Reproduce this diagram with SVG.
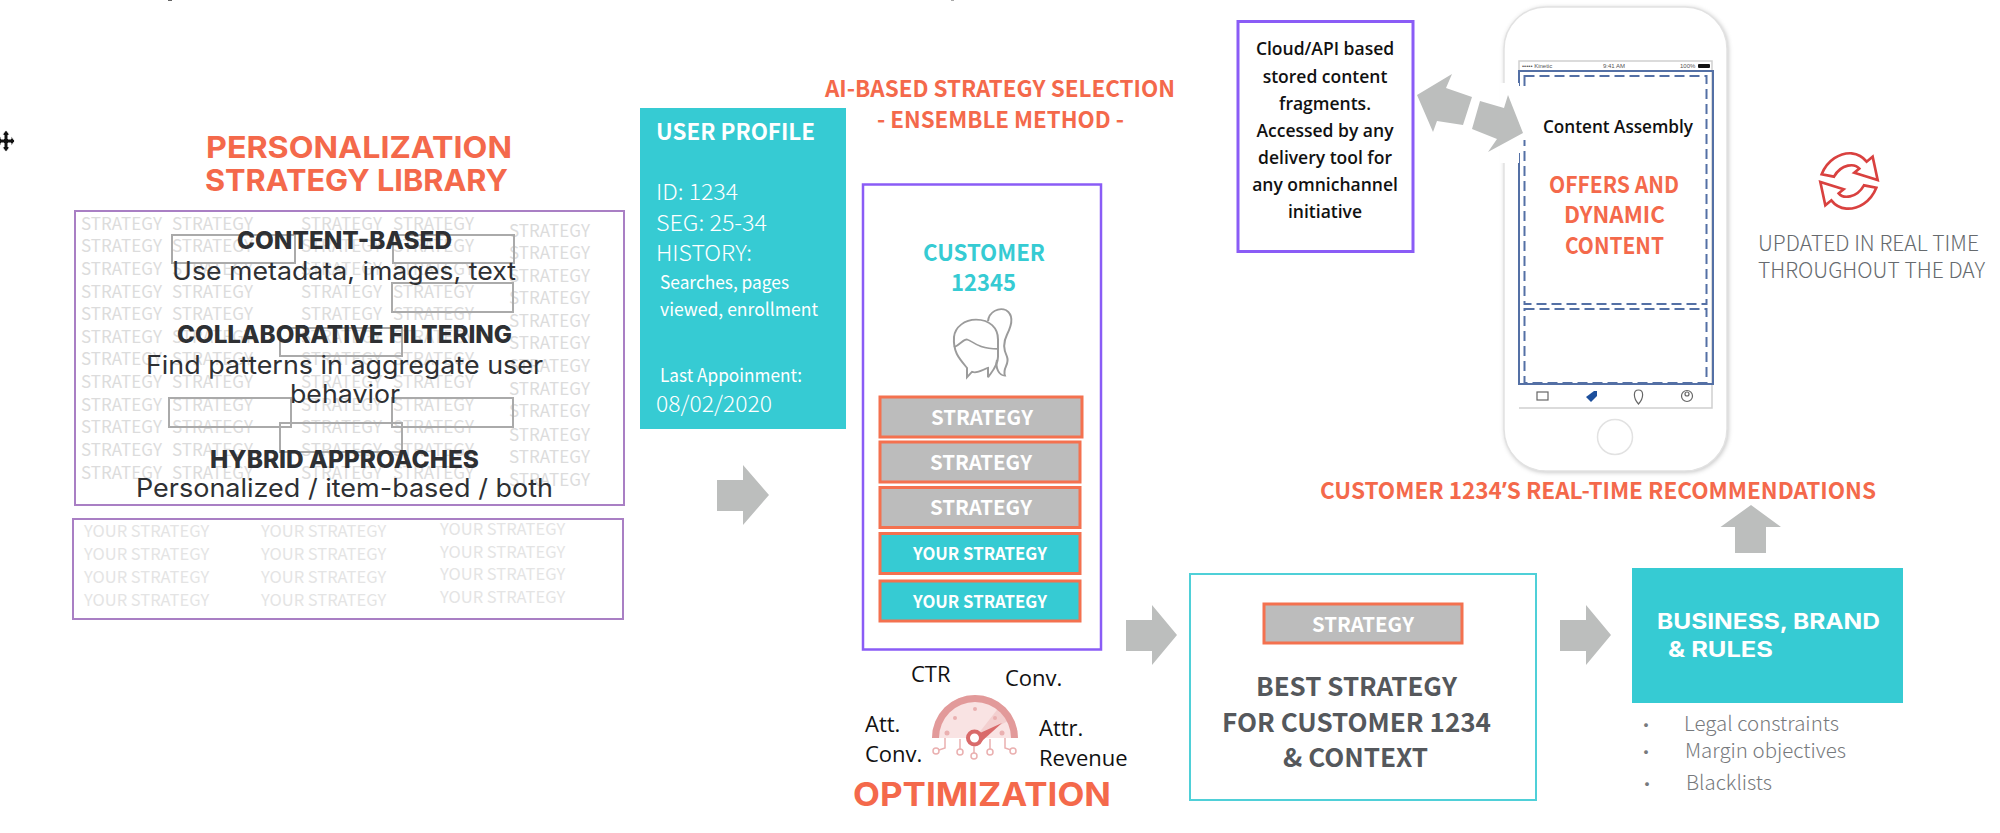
<svg xmlns="http://www.w3.org/2000/svg" width="2000" height="833" viewBox="0 0 2000 833">
<style>
text{font-family:"Noto Sans CJK SC","Noto Sans",sans-serif}
.ttl{font-weight:700;fill:#f4694b}
.mont{font-family:Inter,"Open Sans",sans-serif;font-weight:700}
.s{font-size:17px;fill:#dcdcdc}
.y{font-size:16.500px;fill:#e4e4e4}
.h{font-family:Inter,sans-serif;font-weight:800;font-size:24px;fill:#2e3033}
.d{font-family:Inter,sans-serif;font-weight:400;font-size:25px;fill:#2e3033}
.lib{fill:none;stroke:#a97fc4;stroke-width:2}
.ghost{fill:none;stroke:#aaaaaa;stroke-width:2}
.arrow{fill:#bcbebd}
.st{stroke:#f4714f;stroke-width:3}
.wl{font-weight:700;fill:#fff}
.w{fill:#fff}
.k{font-family:"Open Sans",sans-serif;fill:#111;font-size:22px}
.gr{font-size:20px;font-weight:300;fill:#777a7d}
.up{font-size:21px;font-weight:300;fill:#666a6e}
.best{font-weight:700;font-size:26px;fill:#55585c}
.cloud{font-family:"Open Sans",sans-serif;font-weight:600;font-size:17.500px;fill:#111;text-anchor:middle}
.blue{fill:none;stroke:#5470a5;stroke-width:2}
.dash{fill:none;stroke:#5470a5;stroke-width:2;stroke-dasharray:10 5}
.icon{fill:none;stroke:#9b9b9b;stroke-width:2}
.teal{fill:#36cbd3}
.stat{font-family:"Liberation Sans",sans-serif;font-size:6px;fill:#555}
</style>
<defs><filter id="shadow" x="-5%" y="-5%" width="110%" height="110%"><feDropShadow dx="1" dy="1" stdDeviation="2" flood-color="#c8c8c8"/></filter></defs>
<rect x="168" y="0" width="4" height="1" fill="#666"/><rect x="951" y="0" width="3" height="1" fill="#aaa"/>
<g id="library">
<text class="ttl mont" font-size="30" x="206" y="158" textLength="306" lengthAdjust="spacingAndGlyphs">PERSONALIZATION</text>
<text class="ttl mont" font-size="30" x="205" y="191" textLength="303" lengthAdjust="spacingAndGlyphs">STRATEGY LIBRARY</text>
<rect class="lib" x="75" y="211" width="549" height="294"/>
<g class="s">
<text x="81" y="230">STRATEGY</text><text x="172" y="230">STRATEGY</text><text x="301" y="230">STRATEGY</text><text x="393" y="230">STRATEGY</text>
<text x="81" y="252">STRATEGY</text><text x="172" y="252">STRATEGY</text><text x="301" y="252">STRATEGY</text><text x="393" y="252">STRATEGY</text>
<text x="81" y="275">STRATEGY</text><text x="172" y="275">STRATEGY</text><text x="301" y="275">STRATEGY</text><text x="393" y="275">STRATEGY</text>
<text x="81" y="298">STRATEGY</text><text x="172" y="298">STRATEGY</text><text x="301" y="298">STRATEGY</text><text x="393" y="298">STRATEGY</text>
<text x="81" y="320">STRATEGY</text><text x="172" y="320">STRATEGY</text><text x="301" y="320">STRATEGY</text><text x="393" y="320">STRATEGY</text>
<text x="81" y="343">STRATEGY</text><text x="172" y="343">STRATEGY</text><text x="301" y="343">STRATEGY</text><text x="393" y="343">STRATEGY</text>
<text x="81" y="365">STRATEGY</text><text x="172" y="365">STRATEGY</text><text x="301" y="365">STRATEGY</text><text x="393" y="365">STRATEGY</text>
<text x="81" y="388">STRATEGY</text><text x="172" y="388">STRATEGY</text><text x="301" y="388">STRATEGY</text><text x="393" y="388">STRATEGY</text>
<text x="81" y="411">STRATEGY</text><text x="172" y="411">STRATEGY</text><text x="301" y="411">STRATEGY</text><text x="393" y="411">STRATEGY</text>
<text x="81" y="433">STRATEGY</text><text x="172" y="433">STRATEGY</text><text x="301" y="433">STRATEGY</text><text x="393" y="433">STRATEGY</text>
<text x="81" y="456">STRATEGY</text><text x="172" y="456">STRATEGY</text><text x="301" y="456">STRATEGY</text><text x="393" y="456">STRATEGY</text>
<text x="81" y="479">STRATEGY</text><text x="172" y="479">STRATEGY</text><text x="301" y="479">STRATEGY</text><text x="393" y="479">STRATEGY</text>
<text x="509" y="237">STRATEGY</text><text x="509" y="259">STRATEGY</text><text x="509" y="282">STRATEGY</text><text x="509" y="304">STRATEGY</text><text x="509" y="327">STRATEGY</text><text x="509" y="349">STRATEGY</text><text x="509" y="372">STRATEGY</text><text x="509" y="395">STRATEGY</text><text x="509" y="417">STRATEGY</text><text x="509" y="441">STRATEGY</text><text x="509" y="463">STRATEGY</text><text x="509" y="486">STRATEGY</text>
</g>
<rect class="ghost" x="172" y="235" width="123" height="28"/>
<rect class="ghost" x="393" y="235" width="121" height="28"/>
<rect class="ghost" x="392" y="283" width="121" height="29"/>
<rect class="ghost" x="280" y="328" width="122" height="28"/>
<rect class="ghost" x="169" y="398" width="122" height="29"/>
<rect class="ghost" x="392" y="398" width="121" height="29"/>
<rect class="ghost" x="280" y="423" width="122" height="29"/>
<text class="h" x="237" y="249" textLength="215" lengthAdjust="spacingAndGlyphs">CONTENT-BASED</text>
<text class="d" x="172" y="280" textLength="344" lengthAdjust="spacingAndGlyphs">Use metadata, images, text</text>
<text class="h" x="177" y="343" textLength="335" lengthAdjust="spacingAndGlyphs">COLLABORATIVE FILTERING</text>
<text class="d" x="146" y="374" textLength="397" lengthAdjust="spacingAndGlyphs">Find patterns in aggregate user</text>
<text class="d" x="290" y="403" textLength="110" lengthAdjust="spacingAndGlyphs">behavior</text>
<text class="h" x="210" y="468" textLength="269" lengthAdjust="spacingAndGlyphs">HYBRID APPROACHES</text>
<text class="d" x="136" y="497" textLength="417" lengthAdjust="spacingAndGlyphs">Personalized / item-based / both</text>
</g>
<g id="your-strategies">
<rect class="lib" x="73" y="519" width="550" height="100"/>
<g class="y">
<text x="84" y="537">YOUR STRATEGY</text><text x="261" y="537">YOUR STRATEGY</text><text x="440" y="535">YOUR STRATEGY</text>
<text x="84" y="560">YOUR STRATEGY</text><text x="261" y="560">YOUR STRATEGY</text><text x="440" y="558">YOUR STRATEGY</text>
<text x="84" y="583">YOUR STRATEGY</text><text x="261" y="583">YOUR STRATEGY</text><text x="440" y="580">YOUR STRATEGY</text>
<text x="84" y="606">YOUR STRATEGY</text><text x="261" y="606">YOUR STRATEGY</text><text x="440" y="603">YOUR STRATEGY</text>
</g>
</g>
<g id="user-profile">
<rect x="640" y="108" width="206" height="321" class="teal"/>
<text class="w" font-weight="700" font-size="22" x="656" y="140" textLength="159" lengthAdjust="spacingAndGlyphs">USER PROFILE</text>
<text class="w" font-size="22" font-weight="300" x="656" y="200" textLength="82" lengthAdjust="spacingAndGlyphs">ID: 1234</text>
<text class="w" font-size="22" font-weight="300" x="656" y="231" textLength="111" lengthAdjust="spacingAndGlyphs">SEG: 25-34</text>
<text class="w" font-size="22" font-weight="300" x="656" y="261" textLength="96" lengthAdjust="spacingAndGlyphs">HISTORY:</text>
<text class="w" font-size="18" x="660" y="289" textLength="129" lengthAdjust="spacingAndGlyphs">Searches, pages</text>
<text class="w" font-size="18" x="660" y="316" textLength="158" lengthAdjust="spacingAndGlyphs">viewed, enrollment</text>
<text class="w" font-size="18" x="660" y="382" textLength="142" lengthAdjust="spacingAndGlyphs">Last Appoinment:</text>
<text class="w" font-size="22" font-weight="300" x="656" y="412" textLength="116" lengthAdjust="spacingAndGlyphs">08/02/2020</text>
</g>
<g id="ai-title">
<text class="ttl" font-size="23" x="825" y="97" textLength="350" lengthAdjust="spacingAndGlyphs">AI-BASED STRATEGY SELECTION</text>
<text class="ttl" font-size="23" x="877" y="128" textLength="247" lengthAdjust="spacingAndGlyphs">- ENSEMBLE METHOD -</text>
</g>
<g id="customer">
<rect x="863" y="184.500" width="238" height="465" fill="#fff" stroke="#8a5cf6" stroke-width="2.500"/>
<text font-weight="700" font-size="23" fill="#36cbd3" x="923" y="261" textLength="122" lengthAdjust="spacingAndGlyphs">CUSTOMER</text>
<text font-weight="700" font-size="23" fill="#36cbd3" x="951" y="291" textLength="65" lengthAdjust="spacingAndGlyphs">12345</text>
<g class="icon" transform="translate(-1,97.650) scale(1,.79)">
<path d="M968 354V342C960 330 954 322 955 303C956 290 966 281 977 281C991 281 999 292 999 306V328C999 340 992 348 989 354V342C984 344 978 350 973 347Z"/>
<path d="M955 316C962 312 964 306 968 306C974 308 978 318 999 318"/>
<path d="M989 283C990 271 1000 265 1007 269C1016 276 1012 290 1008 300C1004 310 1004 318 1008 328C1011 338 1003 342 1006 352C1000 352 996 342 998 332"/>
</g>
<g id="strategy-list">
<rect class="st" x="880" y="397" width="202" height="40" fill="#bcbcbc"/><text class="wl" font-size="20.500" x="931" y="425" textLength="102" lengthAdjust="spacingAndGlyphs">STRATEGY</text>
<rect class="st" x="880" y="442" width="200" height="40" fill="#bcbcbc"/><text class="wl" font-size="20.500" x="930" y="470" textLength="102" lengthAdjust="spacingAndGlyphs">STRATEGY</text>
<rect class="st" x="880" y="487.500" width="200" height="40" fill="#bcbcbc"/><text class="wl" font-size="20.500" x="930" y="515" textLength="102" lengthAdjust="spacingAndGlyphs">STRATEGY</text>
<rect class="st" x="880" y="533.500" width="200" height="40" fill="#36cbd3"/><text class="wl" font-size="17.500" x="913" y="560" textLength="134" lengthAdjust="spacingAndGlyphs">YOUR STRATEGY</text>
<rect class="st" x="880" y="581" width="200" height="40" fill="#36cbd3"/><text class="wl" font-size="17.500" x="913" y="608" textLength="134" lengthAdjust="spacingAndGlyphs">YOUR STRATEGY</text>
</g>
</g>
<g id="optimization">
<text class="k" x="911" y="682">CTR</text><text class="k" x="1005" y="686">Conv.</text>
<text class="k" x="865" y="732">Att.</text><text class="k" x="865" y="762">Conv.</text>
<text class="k" x="1039" y="736">Attr.</text><text class="k" x="1039" y="766">Revenue</text>
<path d="M932 738A43 43 0 0 1 1018 738Z" fill="#f9e3e3"/>
<path d="M975 738L1000 706A43 43 0 0 1 1010 720Z" fill="#f3cfcf"/>
<path d="M932 738A43 43 0 0 1 1018 738H1011A36 36 0 0 0 939 738Z" fill="#e29a9a"/>
<g fill="#eab0b0"><circle cx="975" cy="709" r="2"/><circle cx="955" cy="718" r="2"/><circle cx="995" cy="718" r="2"/><circle cx="947" cy="733" r="2.500"/><circle cx="1002" cy="733" r="2.500"/></g>
<circle cx="974.500" cy="738" r="6.500" fill="#fff" stroke="#d96a6a" stroke-width="4"/>
<path d="M980 733L1002 723L982 741Z" fill="#d96a6a"/>
<g fill="none" stroke="#eab0b0" stroke-width="1.500"><path d="M945 738V748L939 750M960 739V749M974 746V753M990 739V749M1005 738V748L1011 750"/><circle cx="936" cy="751" r="3"/><circle cx="960" cy="752" r="3"/><circle cx="974" cy="756" r="3"/><circle cx="990" cy="752" r="3"/><circle cx="1013" cy="751" r="3"/></g>
<text class="ttl mont" font-size="33" x="853" y="806" textLength="258" lengthAdjust="spacingAndGlyphs">OPTIMIZATION</text>
</g>
<g id="cloud">
<rect x="1238" y="21.500" width="175" height="230" fill="#fff" stroke="#8a5cf6" stroke-width="3"/>
<text class="cloud" x="1325" y="55">Cloud/API based</text>
<text class="cloud" x="1325" y="83">stored content</text>
<text class="cloud" x="1325" y="110">fragments.</text>
<text class="cloud" x="1325" y="137">Accessed by any</text>
<text class="cloud" x="1325" y="164">delivery tool for</text>
<text class="cloud" x="1325" y="191">any omnichannel</text>
<text class="cloud" x="1325" y="218">initiative</text>
</g>
<g id="phone">
<rect x="1504" y="7" width="223" height="464" rx="42" fill="#fff" stroke="#e2e2e2" stroke-width="1.500" filter="url(#shadow)"/>
<path d="M1519 384V61H1712V408H1519" fill="none" stroke="#d0d0d0" stroke-width="1.500"/>
<text class="stat" x="1522" y="68">••••• Kinetic</text>
<text class="stat" x="1603" y="68">9:41 AM</text>
<text class="stat" x="1680" y="68">100%</text>
<rect x="1698" y="64" width="12" height="4" rx="1" fill="#111"/>
<rect class="blue" x="1519" y="71" width="194" height="313"/>
<rect class="dash" x="1524.500" y="76" width="182" height="228"/>
<rect class="dash" x="1524.500" y="309" width="182" height="74"/>
<g fill="none" stroke="#666" stroke-width="1.200"><rect x="1537" y="392" width="11" height="8"/><path d="M1638.500 404C1633 398 1633 390 1638.500 390C1644 390 1644 398 1638.500 404Z"/><circle cx="1687" cy="396" r="5.500"/><circle cx="1687" cy="394" r="2"/></g>
<path d="M1586 397L1594 391H1597V396L1591 402Z" fill="#1d4f9c"/>
<circle cx="1615" cy="437" r="17.500" fill="#fff" stroke="#e2e2e2" stroke-width="1.500"/>
<rect x="1500" y="83" width="19" height="80" fill="#fff"/>
<rect x="1517" y="86" width="12" height="54" fill="#fff"/>
<rect x="1517" y="140" width="5" height="13" fill="#fff"/>
<text style="font-family:'Open Sans',sans-serif" font-weight="600" font-size="18" fill="#111" x="1543" y="133" textLength="150" lengthAdjust="spacingAndGlyphs">Content Assembly</text>
<text font-weight="700" font-size="23" fill="#f4694b" x="1549" y="193" textLength="130" lengthAdjust="spacingAndGlyphs">OFFERS AND</text>
<text font-weight="700" font-size="23" fill="#f4694b" x="1564" y="223" textLength="101" lengthAdjust="spacingAndGlyphs">DYNAMIC</text>
<text font-weight="700" font-size="23" fill="#f4694b" x="1565" y="254" textLength="99" lengthAdjust="spacingAndGlyphs">CONTENT</text>
</g>
<g id="realtime">
<g transform="translate(1740,130) scale(.3333)" fill="none" stroke="#d9413f" stroke-width="8">
<path d="M245 133C262 90 300 68 335 70C355 72 370 82 380 95L398 80L413 150L343 128L358 116C345 100 305 100 282 140Z"/>
<path d="M409 173C392 216 354 238 319 236C299 234 284 224 274 211L256 226L241 156L311 178L296 190C309 206 349 206 372 166Z"/>
</g>
<text class="up" x="1758" y="251" textLength="221" lengthAdjust="spacingAndGlyphs">UPDATED IN REAL TIME</text>
<text class="up" x="1758" y="278" textLength="227" lengthAdjust="spacingAndGlyphs">THROUGHOUT THE DAY</text>
</g>
<text class="ttl" font-size="23" x="1320" y="499" textLength="556" lengthAdjust="spacingAndGlyphs" id="rec-title">CUSTOMER 1234<tspan style="font-family:'Open Sans',sans-serif">’</tspan>S REAL-TIME RECOMMENDATIONS</text>
<g id="best">
<rect x="1190" y="574" width="346" height="226" fill="#fff" stroke="#4fd0d8" stroke-width="2"/>
<rect class="st" x="1264" y="604" width="198" height="39" fill="#bcbcbc"/>
<text class="wl" font-size="20.500" x="1312" y="632" textLength="102" lengthAdjust="spacingAndGlyphs">STRATEGY</text>
<text class="best" x="1256" y="696" textLength="201" lengthAdjust="spacingAndGlyphs">BEST STRATEGY</text>
<text class="best" x="1222" y="732" textLength="269" lengthAdjust="spacingAndGlyphs">FOR CUSTOMER 1234</text>
<text class="best" x="1283" y="767" textLength="145" lengthAdjust="spacingAndGlyphs">&amp; CONTEXT</text>
</g>
<g id="rules">
<rect x="1632" y="568" width="271" height="135" class="teal"/>
<text class="mont" font-size="21" fill="#fff" x="1657" y="629" textLength="223" lengthAdjust="spacingAndGlyphs">BUSINESS, BRAND</text>
<text class="mont" font-size="21" fill="#fff" x="1668" y="657" textLength="105" lengthAdjust="spacingAndGlyphs">&amp; RULES</text>
<text class="gr" x="1684" y="731" textLength="155" lengthAdjust="spacingAndGlyphs">Legal constraints</text>
<text class="gr" x="1685" y="758" textLength="161" lengthAdjust="spacingAndGlyphs">Margin objectives</text>
<text class="gr" x="1686" y="790" textLength="86" lengthAdjust="spacingAndGlyphs">Blacklists</text>
<text class="gr" x="1636" y="733" font-weight="400">·</text>
<text class="gr" x="1636" y="760" font-weight="400">·</text>
<text class="gr" x="1637" y="792" font-weight="400">·</text>
</g>
<g id="connectors">
<path class="arrow" d="M717 480H743V465L769 495L743 525V511H717Z"/>
<path class="arrow" d="M1126 620H1152V605L1177 635L1152 665V651H1126Z"/>
<path class="arrow" d="M1560 620H1586V605L1611 635L1586 665V651H1560Z"/>
<path class="arrow" d="M1735 553V527H1720.500L1751 505L1781 527H1766V553Z"/>
<path class="arrow" d="M1417 95L1452 74L1446 88L1472 97L1463 125L1437 121L1433 132Z"/>
<path class="arrow" d="M1523 133L1488 152L1497 139L1472 129L1480 101L1504 108L1508 95Z"/>
</g>
<g id="cursor"><path d="M6 130L10 135H8V139H11V136L15 141L11 146V143H8V147H10L6 152L2 147H4V143H1V146L-3 141L1 136V139H4V135H2Z" fill="#111" stroke="#fff" stroke-width="1"/></g>
</svg>
